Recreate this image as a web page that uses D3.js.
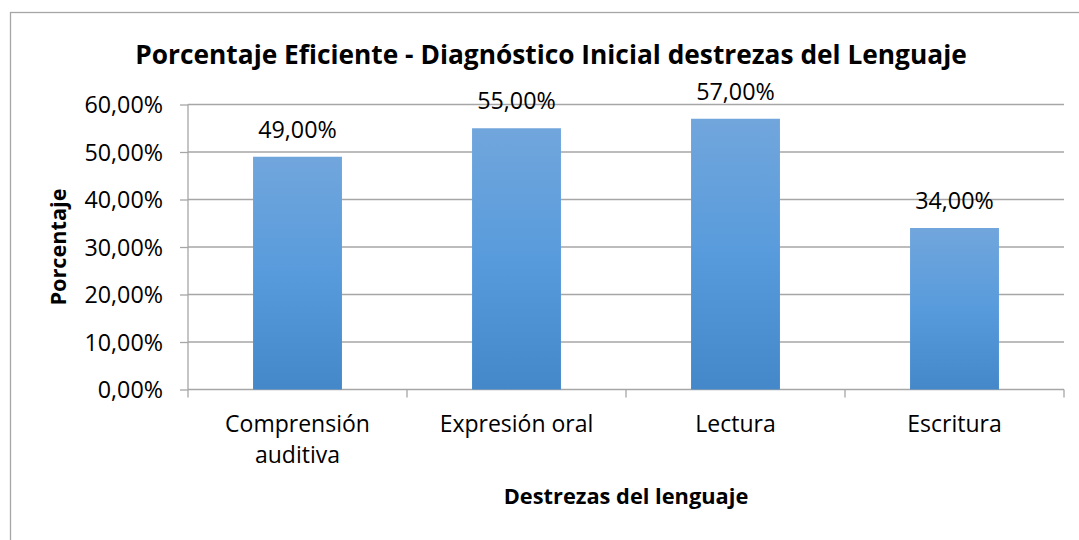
<!DOCTYPE html>
<html>
<head>
<meta charset="utf-8">
<script src="https://cdn.jsdelivr.net/npm/d3@7"></script>
<style>
  body { margin: 0; background: #fff; }
  text { font-family: "Open Sans", "Noto Sans", sans-serif; fill: #000; }
</style>
</head>
<body>
<div id="chart"></div>
<script>
// Chart data
const categories = ['Comprensión auditiva', 'Expresión oral', 'Lectura', 'Escritura'];
const values = [0.49, 0.55, 0.57, 0.34];
const yTicks = [0, 0.1, 0.2, 0.3, 0.4, 0.5, 0.6];

const width = 1079;
const height = 540;
const margin = { top: 104.5, right: 15, bottom: 150.5, left: 188 };
const chartWidth = 1064 - margin.left;
const chartHeight = height - margin.top - margin.bottom;

const fmt = v => d3.format('.2f')(v * 100).replace('.', ',') + '%';

const svg = d3.select('#chart').append('svg')
    .attr('width', width)
    .attr('height', height);

// Gradient for bars
const grad = svg.append('defs').append('linearGradient')
    .attr('id', 'barGrad')
    .attr('x1', 0).attr('y1', 0).attr('x2', 0).attr('y2', 1);
grad.append('stop').attr('offset', '0%').attr('stop-color', '#71a6dc');
grad.append('stop').attr('offset', '50%').attr('stop-color', '#589bdc');
grad.append('stop').attr('offset', '100%').attr('stop-color', '#4488c9');

// Outer frame
svg.append('rect')
    .attr('x', 10.5).attr('y', 12.5)
    .attr('width', 1100).attr('height', 600)
    .attr('fill', 'none')
    .attr('stroke', '#a6a6a6')
    .attr('stroke-width', 1.3);

// Title
svg.append('text')
    .attr('x', 551).attr('y', 64)
    .attr('text-anchor', 'middle')
    .style('font-size', '26.3px')
    .style('font-weight', 'bold')
    .text('Porcentaje Eficiente - Diagnóstico Inicial destrezas del Lenguaje');

const g = svg.append('g')
    .attr('transform', `translate(${margin.left},${margin.top})`);

// Scales
const xScale = d3.scaleBand()
    .domain(categories)
    .range([0, chartWidth])
    .paddingInner(0.594)
    .paddingOuter(0.297);

const xBand = d3.scaleBand()
    .domain(categories)
    .range([0, chartWidth]);

const yScale = d3.scaleLinear()
    .domain([0, 0.6])
    .range([chartHeight, 0]);

// Gridlines
g.selectAll('.grid')
    .data(yTicks.slice(1))
    .enter()
    .append('line')
    .attr('x1', 0).attr('x2', chartWidth)
    .attr('y1', d => yScale(d)).attr('y2', d => yScale(d))
    .attr('stroke', '#a6a6a6')
    .attr('stroke-width', 1.3);

// Y axis
const yAxis = g.append('g')
    .call(d3.axisLeft(yScale).tickValues(yTicks).tickFormat(fmt).tickSize(8).tickPadding(17));
yAxis.selectAll('path, line').attr('stroke', '#a6a6a6').attr('stroke-width', 1.3);
yAxis.select('.domain').attr('d', `M0,${chartHeight}V0`);
yAxis.selectAll('text')
    .style('font-size', '23.3px')
    .style('font-family', '"Open Sans", sans-serif')
    .attr('dy', '0.36em');

// X axis
const xAxis = g.append('g')
    .attr('transform', `translate(0,${chartHeight})`)
    .call(d3.axisBottom(xBand).tickSize(0).tickFormat(''));
xAxis.selectAll('path').attr('stroke', '#a6a6a6').attr('stroke-width', 1.3);
xAxis.select('.domain').attr('d', `M0,0H${chartWidth}`);

// Category boundary ticks
const boundaries = [0].concat(categories.map(c => xBand(c) + xBand.bandwidth()));
xAxis.selectAll('.bt')
    .data(boundaries)
    .enter()
    .append('line')
    .attr('x1', d => d).attr('x2', d => d)
    .attr('y1', 0).attr('y2', 8)
    .attr('stroke', '#a6a6a6')
    .attr('stroke-width', 1.3);

// Category labels (first one wraps onto two lines)
categories.forEach(c => {
    const lines = c === 'Comprensión auditiva' ? c.split(' ') : [c];
    const t = xAxis.append('text')
        .attr('text-anchor', 'middle')
        .style('font-size', '23px');
    lines.forEach((l, i) => {
        t.append('tspan')
            .attr('x', xBand(c) + xBand.bandwidth() / 2)
            .attr('y', 42 + i * 31)
            .text(l);
    });
});

// Bars
g.selectAll('.bar')
    .data(values)
    .enter()
    .append('rect')
    .attr('class', 'bar')
    .attr('x', (d, i) => xScale(categories[i]))
    .attr('y', d => yScale(d))
    .attr('width', xScale.bandwidth())
    .attr('height', d => chartHeight - yScale(d))
    .attr('fill', 'url(#barGrad)');

// Data labels
g.selectAll('.label')
    .data(values)
    .enter()
    .append('text')
    .attr('class', 'label')
    .attr('x', (d, i) => xScale(categories[i]) + xScale.bandwidth() / 2)
    .attr('y', d => yScale(d) - 19)
    .attr('text-anchor', 'middle')
    .style('font-size', '23.3px')
    .text(fmt);

// Axis titles
svg.append('text')
    .attr('transform', `translate(66,${margin.top + chartHeight / 2}) rotate(-90)`)
    .attr('text-anchor', 'middle')
    .style('font-size', '21.7px')
    .style('font-weight', 'bold')
    .text('Porcentaje');

svg.append('text')
    .attr('x', margin.left + chartWidth / 2)
    .attr('y', 504)
    .attr('text-anchor', 'middle')
    .style('font-size', '21.8px')
    .style('font-weight', 'bold')
    .text('Destrezas del lenguaje');
</script>
</body>
</html>
